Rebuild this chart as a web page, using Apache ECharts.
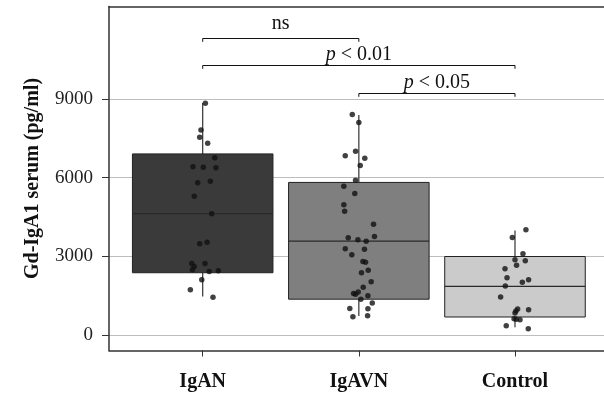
<!DOCTYPE html>
<html>
<head>
<meta charset="utf-8">
<script src="https://cdn.jsdelivr.net/npm/echarts@6/dist/echarts.min.js"></script>
<style>
  html, body { margin: 0; padding: 0; background: #fff; }
  #chart { width: 604px; height: 395px; }
</style>
</head>
<body>
<div id="chart"></div>
<script>
var groups = ['IgAN', 'IgAVN', 'Control'];
var yTicks = [0, 3000, 6000, 9000];

// [min, Q1, median, Q3, max]
var iganBox = [1460, 2370, 4630, 6910, 8850];
var igavnBox = [720, 1360, 3580, 5820, 8400];
var controlBox = [290, 680, 1850, 2990, 3980];

// individual points: values and horizontal jitter (in group units)
var iganVals = [8847, 7827, 7548, 7319, 6758, 6415, 6402, 6376, 5868, 5804, 5295, 4620,
    3475, 3538, 2724, 2724, 2609, 2482, 2418, 2444, 2100, 1718, 1438];
var iganJit = [0.017, -0.011, -0.019, 0.032, 0.077, -0.062, 0.004, 0.085, 0.049, -0.032, -0.054, 0.058,
    -0.019, 0.028, -0.07, 0.015, -0.054, -0.066, 0.042, 0.1, -0.006, -0.079, 0.066];

var igavnVals = [8413, 8108, 7014, 6835, 6746, 6465, 5907, 5678, 5395, 4964, 4723, 4226,
    3704, 3627, 3577, 3753, 3284, 3271, 3055, 2799, 2775, 2470, 2367, 2024, 1820, 1630,
    1578, 1553, 1489, 1362, 1210, 1005, 993, 687, 725];
var igavnJit = [-0.042, 0, -0.021, -0.087, 0.038, 0.009, -0.021, -0.096, -0.026, -0.096, -0.091, 0.094,
    -0.068, -0.006, 0.047, 0.1, -0.087, 0.036, -0.045, 0.026, 0.043, 0.06, 0.017, 0.079, 0.028, -0.004,
    -0.034, -0.021, 0.058, 0.013, 0.086, -0.058, 0.058, -0.038, 0.056];

var controlVals = [4009, 3716, 3093, 2864, 2826, 2661, 2520, 2176, 2100, 2011, 1859, 1439,
    981, 905, 955, 828, 611, 598, 573, 344, 229];
var controlJit = [0.07, -0.017, 0.051, 0, 0.066, 0.01, -0.064, -0.051, 0.087, 0.047, -0.062, -0.092,
    0.017, 0.006, 0.087, 0, -0.006, 0.008, 0.032, -0.056, 0.085];

// significance brackets
var bracketFrom = [1, 1, 2];
var bracketTo = [2, 3, 3];
var bracketY = [11330, 10300, 9250];
var bracketText = ['ns', '{i|p} < 0.01', '{i|p} < 0.05'];

var boxColors = ['#3a3a3a', '#7f7f7f', '#cbcbcb'];
var labelLift = [15, 11, 11];
var serif = '"Liberation Serif", "Times New Roman", serif';

var boxData = [iganBox, igavnBox, controlBox].map(function (b, i) {
    return [i + 1].concat(b);
});

function points(vals, jit, g) {
    var res = [];
    for (var i = 0; i < vals.length; i++) {
        res.push([g + jit[i], vals[i]]);
    }
    return res;
}
var pointData = points(iganVals, iganJit, 1)
    .concat(points(igavnVals, igavnJit, 2))
    .concat(points(controlVals, controlJit, 3));

var bracketData = [];
for (var i = 0; i < bracketFrom.length; i++) {
    bracketData.push([bracketFrom[i], bracketTo[i], bracketY[i]]);
}

var chart = echarts.init(document.getElementById('chart'));

var option = {
    animation: false,
    grid: { left: 109, right: 0, top: 6.5, bottom: 44.5 },
    xAxis: [{
        type: 'value',
        min: 0.4,
        max: 3.57,
        axisLine: { onZero: false, lineStyle: { color: '#333', width: 1.5 } },
        axisTick: { show: true, customValues: [1, 2, 3], length: 6, lineStyle: { color: '#333' } },
        axisLabel: {
            customValues: [1, 2, 3],
            formatter: function (v) { return groups[Math.round(v) - 1]; },
            fontFamily: serif, fontWeight: 'bold', fontSize: 20, color: '#111', margin: 21
        },
        splitLine: { show: false }
    }, {
        type: 'value',
        position: 'top',
        min: 0.4,
        max: 3.57,
        axisLine: { show: true, onZero: false, lineStyle: { color: '#333', width: 1.5 } },
        axisTick: { show: false },
        axisLabel: { show: false },
        splitLine: { show: false }
    }],
    yAxis: {
        type: 'value',
        min: -600,
        max: 12540,
        name: 'Gd-IgA1 serum (pg/ml)',
        nameLocation: 'middle',
        nameGap: 66,
        nameTextStyle: { fontFamily: serif, fontWeight: 'bold', fontSize: 20, color: '#111' },
        axisLine: { show: true, onZero: false, lineStyle: { color: '#333', width: 1.5 } },
        axisTick: { show: true, customValues: yTicks, length: 7, lineStyle: { color: '#333' } },
        axisLabel: {
            customValues: yTicks,
            formatter: function (v) { return String(v); },
            fontFamily: serif, fontSize: 19, color: '#222', margin: 16
        },
        splitLine: { show: true, lineStyle: { color: '#bdbdbd', width: 1 } }
    },
    series: [{
        type: 'custom',
        data: boxData,
        z: 2,
        renderItem: function (params, api) {
            var x = api.value(0);
            var w = api.size([0.9, 0])[0];
            var pMin = api.coord([x, api.value(1)]);
            var pQ1 = api.coord([x, api.value(2)]);
            var pMed = api.coord([x, api.value(3)]);
            var pQ3 = api.coord([x, api.value(4)]);
            var pMax = api.coord([x, api.value(5)]);
            var cx = pMin[0];
            var ws = { stroke: '#333', lineWidth: 1.2 };
            return {
                type: 'group',
                children: [
                    { type: 'line', shape: { x1: cx, y1: pMax[1], x2: cx, y2: pQ3[1] }, style: ws },
                    { type: 'line', shape: { x1: cx, y1: pQ1[1], x2: cx, y2: pMin[1] }, style: ws },
                    {
                        type: 'rect',
                        shape: { x: cx - w / 2, y: pQ3[1], width: w, height: pQ1[1] - pQ3[1] },
                        style: { fill: boxColors[params.dataIndex], stroke: '#222', lineWidth: 1 }
                    },
                    {
                        type: 'line',
                        shape: { x1: cx - w / 2, y1: pMed[1], x2: cx + w / 2, y2: pMed[1] },
                        style: { stroke: '#2a2a2a', lineWidth: 1.3 }
                    }
                ]
            };
        }
    }, {
        type: 'scatter',
        data: pointData,
        symbolSize: 5.5,
        z: 3,
        itemStyle: { color: '#111' }
    }, {
        type: 'custom',
        data: bracketData,
        z: 4,
        renderItem: function (params, api) {
            var a = api.coord([api.value(0), api.value(2)]);
            var b = api.coord([api.value(1), api.value(2)]);
            var y = Math.round(a[1]) + 0.5;
            var k = params.dataIndex;
            return {
                type: 'group',
                children: [{
                    type: 'polyline',
                    shape: { points: [[a[0], y + 3.3], [a[0], y], [b[0], y], [b[0], y + 3.3]] },
                    style: { stroke: '#111', lineWidth: 1, fill: null }
                }, {
                    type: 'text',
                    style: {
                        x: (a[0] + b[0]) / 2,
                        y: y - labelLift[k],
                        text: bracketText[k],
                        align: 'center',
                        verticalAlign: 'middle',
                        fontFamily: serif,
                        fontSize: 20,
                        fill: '#111',
                        rich: { i: { fontStyle: 'italic', fontFamily: serif, fontSize: 20 } }
                    }
                }]
            };
        }
    }]
};

chart.setOption(option);
</script>
</body>
</html>
